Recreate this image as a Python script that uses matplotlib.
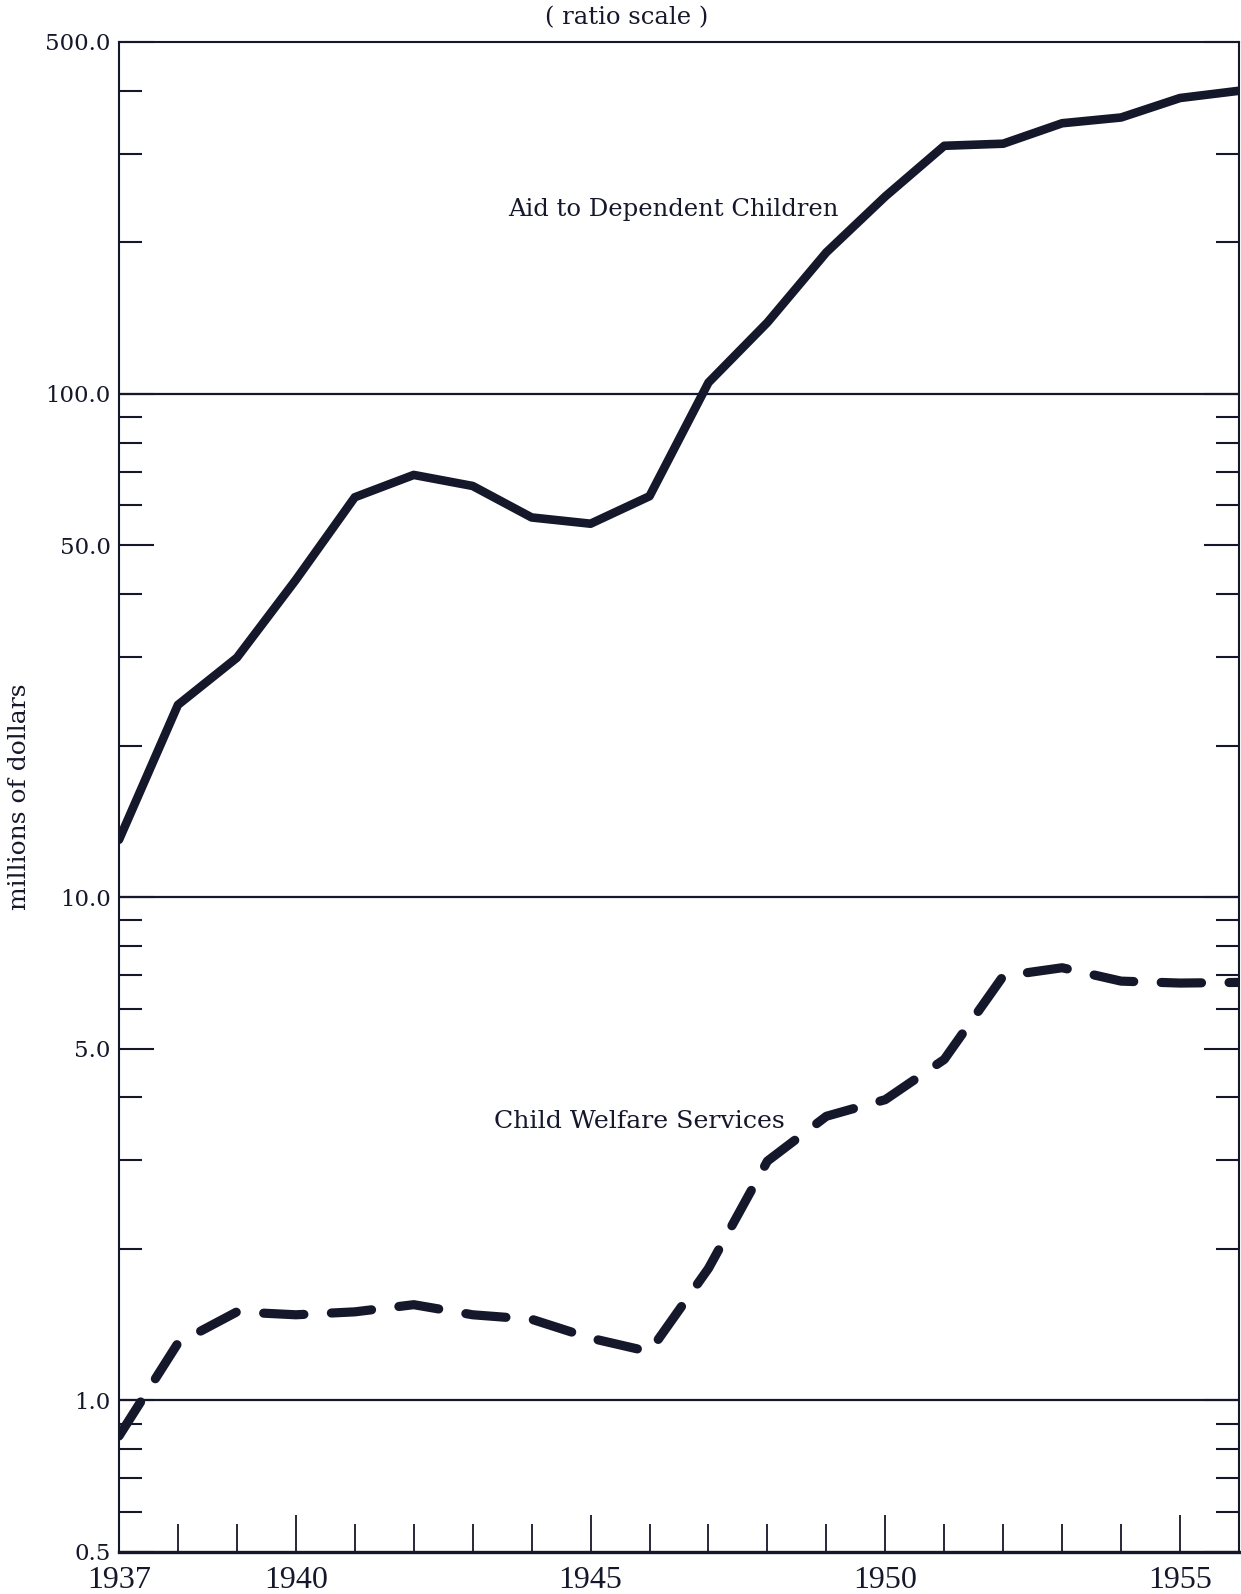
import matplotlib.pyplot as plt
from matplotlib.ticker import FixedLocator, NullFormatter

# Data (millions of dollars, ratio scale)
years = list(range(1937, 1957))
adc = [13.0, 24.1, 29.9, 42.7, 62.3, 69.0, 65.6, 56.8, 55.2, 62.6,
       105.3, 138.6, 191.0, 246.7, 311.0, 314.0, 344.8, 354.0, 387.0, 400.0]
cws = [0.85, 1.30, 1.50, 1.48, 1.50, 1.55, 1.48, 1.45, 1.33, 1.25,
       1.83, 2.99, 3.67, 3.96, 4.76, 6.97, 7.24, 6.81, 6.75, 6.77]

ytick_vals = [0.5, 1, 5, 10, 50, 100, 500]
ytick_labels = ['0.5', '1.0', '5.0', '10.0', '50.0', '100.0', '500.0']
ytick_minor = [0.6, 0.7, 0.8, 0.9, 2, 3, 4, 6, 7, 8, 9,
               20, 30, 40, 60, 70, 80, 90, 200, 300, 400]
xtick_major = [1937, 1940, 1945, 1950, 1955]
grid_vals = [1, 10, 100]

ink = '#15172a'
serif = 'DejaVu Serif'

fig = plt.figure(figsize=(12.41, 15.94), dpi=100, facecolor='white')
ax = fig.add_axes([119 / 1241, 1 - 1552 / 1594, 1120 / 1241, 1510 / 1594])

ax.set_yscale('log')
ax.set_ylim(0.5, 500)
ax.set_xlim(1937, 1956)

# reference lines at each decade
for g in grid_vals:
    ax.axhline(g, color=ink, lw=1.6, zorder=1)

ax.plot(years, adc, color=ink, lw=6.2, solid_capstyle='round',
        solid_joinstyle='round', zorder=3)
ax.plot(years, cws, color=ink, lw=6.6, dashes=(4.4, 3.0),
        dash_capstyle='round', dash_joinstyle='round', zorder=3)

# y ticks, both sides, pointing in
ax.yaxis.set_major_locator(FixedLocator(ytick_vals))
ax.set_yticklabels(ytick_labels)
ax.yaxis.set_minor_locator(FixedLocator(ytick_minor))
ax.yaxis.set_minor_formatter(NullFormatter())
ax.tick_params(axis='y', which='major', direction='in', length=25, width=1.5,
               left=True, right=True, color=ink, labelcolor=ink,
               labelsize=16.5, pad=6)
ax.tick_params(axis='y', which='minor', direction='in', length=16.5, width=1.5,
               left=True, right=True, color=ink)
for lab in ax.get_yticklabels():
    lab.set_family(serif)

# x ticks, every year, bottom only
ax.xaxis.set_major_locator(FixedLocator(xtick_major))
ax.set_xticklabels([str(y) for y in xtick_major])
ax.xaxis.set_minor_locator(FixedLocator(years))
ax.tick_params(axis='x', which='major', direction='in', length=27, width=1.3,
               color=ink, labelcolor=ink, labelsize=23, pad=10)
ax.tick_params(axis='x', which='minor', direction='in', length=20, width=1.3,
               color=ink)
for lab in ax.get_xticklabels():
    lab.set_family('Liberation Serif')

for side in ['left', 'right', 'top']:
    ax.spines[side].set_linewidth(1.5)
    ax.spines[side].set_color(ink)
ax.spines['bottom'].set_linewidth(2.4)
ax.spines['bottom'].set_color(ink)

fig.text(20 / 1241, 1 - 797 / 1594, 'millions of dollars', family=serif,
         fontsize=18, color=ink, rotation=90, ha='center', va='center')

fig.text(627 / 1241, 1 - 18 / 1594, '( ratio scale )', family=serif,
         fontsize=17.5, color=ink, ha='center', va='center')

ax.text(1943.6, 232, 'Aid to Dependent Children', family=serif,
        fontsize=17.5, color=ink, ha='left', va='center')
ax.text(1943.36, 3.58, 'Child Welfare Services', family=serif,
        fontsize=18.2, color=ink, ha='left', va='center')

fig.savefig('out.png', dpi=100, facecolor='white')
